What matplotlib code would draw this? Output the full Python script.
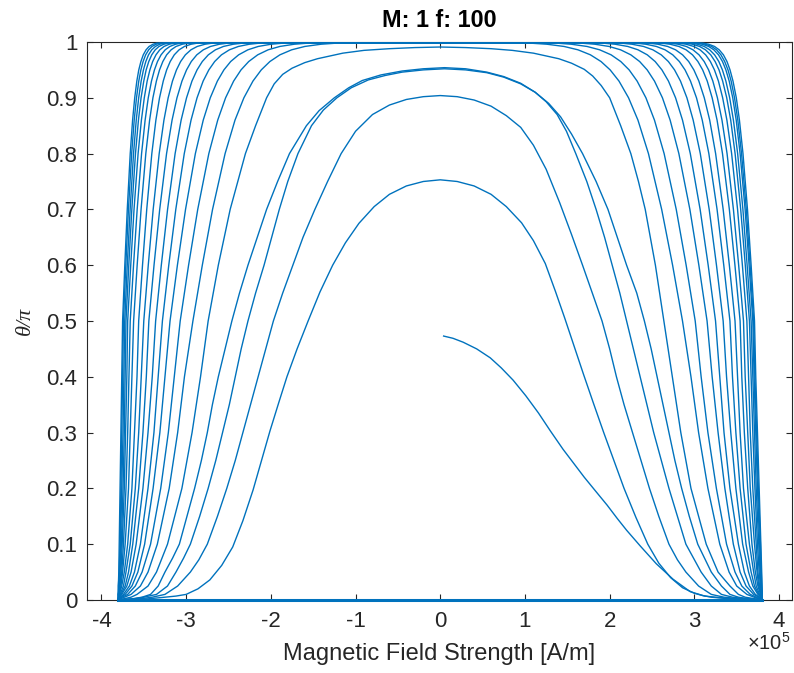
import matplotlib
matplotlib.use("Agg")
import matplotlib.pyplot as plt

plt.rcParams['font.family'] = ['Liberation Sans', 'DejaVu Sans']
plt.rcParams['axes.unicode_minus'] = False
plt.rcParams['mathtext.fontset'] = 'custom'
plt.rcParams['mathtext.rm'] = 'Liberation Sans'
plt.rcParams['mathtext.it'] = 'Liberation Sans:italic'

# x values in units of 1e5 A/m, y = theta/pi
X_SCALE = 1e5
TITLE = "M: 1 f: 100"
XTICKS = [-4, -3, -2, -1, 0, 1, 2, 3, 4]
YTICKS = [0, 0.1, 0.2, 0.3, 0.4, 0.5, 0.6, 0.7, 0.8, 0.9, 1]
YTICK_LABELS = ['0', '0.1', '0.2', '0.3', '0.4', '0.5', '0.6', '0.7', '0.8', '0.9', '1']

# baseline (return sweeps along theta = 0)
BASE_X = [-3.80, 3.80]
BASE_Y = [0.0, 0.0]

# first (partial) sweep
A0_x = [0.04, 0.15, 0.27, 0.43, 0.59, 0.72, 0.86, 1.01, 1.16, 1.30, 1.45, 1.58, 1.70, 1.84, 1.97, 2.09, 2.20,
        2.36, 2.55, 2.75, 2.95, 3.10, 3.20, 3.50, 3.80]
A0_y = [0.473, 0.469, 0.462, 0.450, 0.434, 0.416, 0.394, 0.366, 0.335, 0.303, 0.270, 0.244, 0.220, 0.194, 0.170,
        0.146, 0.125, 0.097, 0.065, 0.037, 0.015, 0.008, 0.005, 0.001, 0.0]

# inner arches (explicit points)
A1_x = [-3.80, -3.45, -3.25, -3.12, -3.00, -2.86, -2.72, -2.58, -2.45, -2.33, -2.21, -2.11, -2.01, -1.91, -1.81,
        -1.69, -1.56, -1.42, -1.27, -1.12, -0.96, -0.78, -0.60, -0.40, -0.20, 0.00,
        0.20, 0.40, 0.60, 0.78, 0.96, 1.10, 1.24, 1.36, 1.47, 1.58, 1.69, 1.81, 1.93, 2.05, 2.17, 2.31, 2.45,
        2.58, 2.72, 2.86, 3.00, 3.12, 3.25, 3.45, 3.80]
A1_y = [0, 0.002, 0.005, 0.007, 0.01, 0.02, 0.036, 0.062, 0.095, 0.142, 0.197, 0.25, 0.303, 0.352, 0.40,
        0.45, 0.5, 0.552, 0.60, 0.64, 0.675, 0.705, 0.727, 0.742, 0.75, 0.753,
        0.75, 0.742, 0.727, 0.705, 0.676, 0.644, 0.603, 0.553, 0.505, 0.455, 0.405, 0.352, 0.30, 0.25, 0.20, 0.148, 0.10,
        0.066, 0.04, 0.022, 0.012, 0.007, 0.005, 0.002, 0]

A2_x = [-3.80, -3.55, -3.40, -3.25, -3.10, -2.95, -2.85, -2.75, -2.63, -2.52, -2.42, -2.33, -2.24, -2.15, -2.06,
        -1.97, -1.86, -1.74, -1.62, -1.48, -1.33, -1.17, -1.00, -0.80, -0.60, -0.40, -0.20, 0.00,
        0.20, 0.40, 0.60, 0.78, 0.95, 1.10, 1.25, 1.41, 1.55, 1.68, 1.80, 1.91, 2.00, 2.08, 2.17, 2.27, 2.37,
        2.47, 2.58, 2.70, 2.80, 2.90, 3.05, 3.20, 3.35, 3.55, 3.80]
A2_y = [0, 0.002, 0.005, 0.01, 0.025, 0.05, 0.072, 0.1, 0.15, 0.2, 0.25, 0.3, 0.35, 0.4, 0.45,
        0.5, 0.55, 0.6, 0.65, 0.7, 0.75, 0.8, 0.84, 0.87, 0.887, 0.897, 0.902, 0.904,
        0.902, 0.896, 0.885, 0.868, 0.847, 0.815, 0.772, 0.712, 0.655, 0.6, 0.548, 0.5, 0.45, 0.4, 0.35, 0.3, 0.25,
        0.2, 0.15, 0.1, 0.072, 0.05, 0.025, 0.01, 0.005, 0.002, 0]

A3_x = [-3.80, -3.62, -3.50, -3.35, -3.22, -3.12, -3.03, -2.95, -2.84, -2.74, -2.65, -2.57, -2.49, -2.42, -2.35,
        -2.27, -2.18, -2.08, -1.99, -1.90, -1.80, -1.68, -1.52, -1.38, -1.22, -1.05, -0.85, -0.65, -0.45, -0.20, 0.05,
        0.30, 0.55, 0.75, 0.95, 1.12, 1.25, 1.38, 1.49, 1.60, 1.73, 1.84, 1.94, 2.03, 2.12, 2.20, 2.28, 2.36,
        2.44, 2.52, 2.61, 2.70, 2.80, 2.90, 2.99, 3.08, 3.20, 3.32, 3.45, 3.62, 3.80]
A3_y = [0, 0.002, 0.005, 0.01, 0.025, 0.05, 0.075, 0.1, 0.15, 0.2, 0.25, 0.3, 0.35, 0.4, 0.45,
        0.5, 0.55, 0.6, 0.65, 0.7, 0.75, 0.8, 0.85, 0.878, 0.9, 0.918, 0.932, 0.94, 0.946, 0.95, 0.952,
        0.95, 0.945, 0.937, 0.925, 0.91, 0.893, 0.87, 0.84, 0.80, 0.75, 0.70, 0.65, 0.60, 0.55, 0.50, 0.45, 0.40,
        0.35, 0.30, 0.25, 0.20, 0.15, 0.10, 0.075, 0.05, 0.025, 0.01, 0.005, 0.002, 0]

A4_x = [-3.80, -3.64, -3.52, -3.42, -3.33, -3.25, -3.16, -3.08, -2.99, -2.90, -2.82, -2.75, -2.69, -2.62, -2.54,
        -2.46, -2.37, -2.27, -2.16, -2.05, -1.92, -1.78, -1.58, -1.43, -1.25, -1.08, -0.92, -0.70, -0.45, -0.20, 0.05,
        0.30, 0.55, 0.75, 0.95, 1.12, 1.28, 1.42, 1.55, 1.68, 1.84, 1.98, 2.09, 2.20, 2.32, 2.41, 2.49, 2.56,
        2.63, 2.70, 2.77, 2.85, 2.94, 3.04, 3.12, 3.20, 3.32, 3.42, 3.52, 3.65, 3.80]
A4_y = [0, 0.002, 0.005, 0.01, 0.025, 0.05, 0.075, 0.1, 0.15, 0.2, 0.25, 0.3, 0.35, 0.4, 0.45,
        0.5, 0.55, 0.6, 0.65, 0.7, 0.75, 0.8, 0.85, 0.877, 0.9, 0.918, 0.931, 0.941, 0.948, 0.952, 0.954,
        0.952, 0.946, 0.938, 0.926, 0.91, 0.89, 0.866, 0.835, 0.80, 0.75, 0.70, 0.65, 0.60, 0.55, 0.50, 0.45, 0.40,
        0.35, 0.30, 0.25, 0.20, 0.15, 0.10, 0.075, 0.05, 0.025, 0.01, 0.005, 0.002, 0]

A5_x = [-3.80, -3.65, -3.58, -3.45, -3.35, -3.22, -3.05, -2.93, -2.83, -2.74, -2.62, -2.48, -2.39, -2.30, -2.18,
        -2.05, -1.96, -1.86, -1.75, -1.60, -1.45, -1.15, -0.90, -0.60, -0.30, 0.00,
        0.30, 0.60, 0.85, 1.10, 1.40, 1.55, 1.70, 1.80, 1.90, 2.00, 2.13, 2.25, 2.34, 2.42, 2.54, 2.64, 2.74,
        2.84, 2.96, 3.14, 3.28, 3.42, 3.52, 3.60, 3.80]
A5_y = [0, 0.005, 0.01, 0.025, 0.05, 0.1, 0.2, 0.3, 0.4, 0.5, 0.6, 0.7, 0.75, 0.8, 0.85,
        0.9, 0.925, 0.942, 0.953, 0.963, 0.97, 0.98, 0.985, 0.988, 0.990, 0.991,
        0.990, 0.988, 0.985, 0.98, 0.97, 0.962, 0.951, 0.939, 0.922, 0.9, 0.85, 0.8, 0.75, 0.7, 0.6, 0.5, 0.4,
        0.3, 0.2, 0.1, 0.05, 0.025, 0.01, 0.005, 0]

# saturated arches: x where each side crosses these theta/pi levels
LEV = [0.003, 0.01, 0.025, 0.05, 0.1, 0.2, 0.3, 0.4, 0.5, 0.6, 0.7, 0.8, 0.86, 0.9, 0.93, 0.95, 0.965,
       0.977, 0.986, 0.992, 0.996, 0.998]

LEFT = [
    [-3.76, -3.65, -3.54, -3.45, -3.34, -3.20, -3.10, -3.02, -2.92, -2.809, -2.688, -2.540, -2.423, -2.318, -2.211, -2.113, -2.011, -1.893, -1.754, -1.599, -1.408, -1.218],
    [-3.78, -3.69, -3.60, -3.52, -3.42, -3.30, -3.21, -3.14, -3.07, -2.971, -2.863, -2.732, -2.627, -2.534, -2.439, -2.352, -2.261, -2.155, -2.032, -1.894, -1.724, -1.554],
    [-3.79, -3.72, -3.64, -3.57, -3.49, -3.39, -3.31, -3.25, -3.19, -3.103, -3.007, -2.891, -2.798, -2.715, -2.631, -2.554, -2.474, -2.380, -2.271, -2.149, -1.998, -1.848],
    [-3.79, -3.74, -3.67, -3.61, -3.54, -3.45, -3.38, -3.33, -3.28, -3.205, -3.122, -3.022, -2.942, -2.871, -2.799, -2.732, -2.663, -2.583, -2.489, -2.383, -2.254, -2.124],
    [-3.80, -3.76, -3.70, -3.65, -3.59, -3.51, -3.45, -3.40, -3.36, -3.293, -3.219, -3.130, -3.059, -2.995, -2.931, -2.871, -2.809, -2.738, -2.654, -2.560, -2.444, -2.329],
    [-3.80, -3.77, -3.72, -3.68, -3.63, -3.56, -3.51, -3.47, -3.44, -3.379, -3.312, -3.231, -3.166, -3.108, -3.049, -2.995, -2.939, -2.874, -2.797, -2.712, -2.607, -2.502],
    [-3.80, -3.78, -3.74, -3.71, -3.66, -3.60, -3.56, -3.53, -3.50, -3.447, -3.389, -3.318, -3.262, -3.212, -3.161, -3.114, -3.065, -3.009, -2.943, -2.869, -2.777, -2.686],
    [-3.80, -3.79, -3.76, -3.73, -3.69, -3.64, -3.61, -3.58, -3.56, -3.515, -3.465, -3.405, -3.357, -3.314, -3.270, -3.230, -3.188, -3.140, -3.083, -3.020, -2.942, -2.864],
    [-3.80, -3.79, -3.77, -3.75, -3.72, -3.68, -3.66, -3.64, -3.62, -3.578, -3.532, -3.476, -3.431, -3.392, -3.351, -3.314, -3.275, -3.230, -3.177, -3.119, -3.046, -2.974],
    [-3.80, -3.80, -3.78, -3.76, -3.74, -3.71, -3.69, -3.675, -3.66, -3.621, -3.578, -3.526, -3.484, -3.447, -3.409, -3.374, -3.338, -3.296, -3.247, -3.192, -3.125, -3.057],
    [-3.80, -3.80, -3.785, -3.77, -3.755, -3.73, -3.715, -3.70, -3.69, -3.654, -3.615, -3.567, -3.528, -3.494, -3.460, -3.428, -3.395, -3.356, -3.311, -3.261, -3.199, -3.137],
    [-3.80, -3.80, -3.79, -3.78, -3.765, -3.745, -3.73, -3.72, -3.71, -3.677, -3.641, -3.598, -3.563, -3.532, -3.500, -3.472, -3.441, -3.406, -3.365, -3.320, -3.263, -3.207],
    [-3.80, -3.80, -3.795, -3.785, -3.775, -3.76, -3.745, -3.735, -3.725, -3.695, -3.661, -3.621, -3.589, -3.560, -3.531, -3.504, -3.476, -3.444, -3.406, -3.363, -3.311, -3.259],
    [-3.80, -3.80, -3.80, -3.79, -3.78, -3.77, -3.76, -3.75, -3.74, -3.712, -3.681, -3.643, -3.613, -3.586, -3.559, -3.534, -3.508, -3.478, -3.442, -3.403, -3.354, -3.305],
    [-3.80, -3.80, -3.80, -3.795, -3.79, -3.78, -3.77, -3.76, -3.75, -3.724, -3.695, -3.660, -3.632, -3.607, -3.582, -3.559, -3.534, -3.506, -3.473, -3.437, -3.391, -3.346],
]

RIGHT = [
    [3.74, 3.62, 3.50, 3.41, 3.30, 3.16, 3.05, 2.96, 2.86, 2.743, 2.614, 2.458, 2.334, 2.223, 2.110, 2.006, 1.898, 1.773, 1.626, 1.462, 1.260, 1.058],
    [3.76, 3.66, 3.56, 3.48, 3.38, 3.26, 3.16, 3.08, 3.01, 2.903, 2.786, 2.643, 2.529, 2.428, 2.324, 2.230, 2.131, 2.017, 1.882, 1.733, 1.548, 1.364],
    [3.78, 3.70, 3.61, 3.54, 3.46, 3.36, 3.28, 3.21, 3.15, 3.053, 2.947, 2.817, 2.714, 2.623, 2.529, 2.443, 2.354, 2.250, 2.129, 1.993, 1.826, 1.659],
    [3.79, 3.72, 3.65, 3.59, 3.52, 3.42, 3.35, 3.30, 3.25, 3.163, 3.068, 2.952, 2.860, 2.778, 2.694, 2.617, 2.537, 2.444, 2.335, 2.214, 2.064, 1.914],
    [3.80, 3.75, 3.69, 3.64, 3.57, 3.49, 3.43, 3.38, 3.34, 3.261, 3.175, 3.070, 2.986, 2.912, 2.836, 2.766, 2.693, 2.609, 2.510, 2.400, 2.264, 2.128],
    [3.80, 3.76, 3.71, 3.67, 3.61, 3.54, 3.49, 3.45, 3.42, 3.347, 3.268, 3.171, 3.093, 3.025, 2.954, 2.890, 2.823, 2.745, 2.654, 2.552, 2.427, 2.302],
    [3.80, 3.77, 3.73, 3.70, 3.65, 3.58, 3.54, 3.51, 3.48, 3.413, 3.340, 3.251, 3.181, 3.117, 3.053, 2.994, 2.933, 2.861, 2.778, 2.685, 2.570, 2.455],
    [3.80, 3.78, 3.75, 3.72, 3.68, 3.63, 3.59, 3.56, 3.54, 3.479, 3.413, 3.332, 3.268, 3.210, 3.152, 3.098, 3.042, 2.978, 2.902, 2.817, 2.712, 2.608],
    [3.80, 3.79, 3.76, 3.74, 3.71, 3.66, 3.63, 3.60, 3.58, 3.523, 3.461, 3.386, 3.326, 3.272, 3.218, 3.168, 3.116, 3.055, 2.984, 2.905, 2.808, 2.710],
    [3.80, 3.79, 3.77, 3.75, 3.73, 3.69, 3.66, 3.64, 3.62, 3.567, 3.510, 3.440, 3.384, 3.334, 3.284, 3.237, 3.189, 3.133, 3.067, 2.993, 2.903, 2.812],
    [3.80, 3.80, 3.78, 3.765, 3.745, 3.715, 3.69, 3.67, 3.65, 3.601, 3.547, 3.481, 3.429, 3.382, 3.334, 3.291, 3.245, 3.193, 3.131, 3.062, 2.977, 2.892],
    [3.80, 3.80, 3.79, 3.775, 3.76, 3.73, 3.71, 3.69, 3.67, 3.623, 3.573, 3.511, 3.461, 3.417, 3.372, 3.331, 3.289, 3.239, 3.181, 3.116, 3.036, 2.956],
    [3.80, 3.80, 3.79, 3.785, 3.77, 3.745, 3.725, 3.705, 3.69, 3.646, 3.599, 3.540, 3.494, 3.453, 3.411, 3.372, 3.332, 3.285, 3.230, 3.169, 3.094, 3.019],
    [3.80, 3.80, 3.795, 3.79, 3.78, 3.755, 3.735, 3.715, 3.70, 3.658, 3.613, 3.557, 3.513, 3.474, 3.434, 3.397, 3.358, 3.314, 3.262, 3.204, 3.132, 3.060],
    [3.80, 3.80, 3.80, 3.795, 3.785, 3.765, 3.745, 3.725, 3.71, 3.670, 3.627, 3.574, 3.532, 3.495, 3.456, 3.421, 3.385, 3.343, 3.293, 3.238, 3.169, 3.101],
]

COLOR = '#0072BD'
TXT = '#262626'
LW = 1.0

fig = plt.figure(figsize=(7.94, 6.73), dpi=100)
ax = fig.add_axes([0.1096, 0.1085, 0.8876, 0.8291])

def draw(xs, ys):
    ax.plot([v * X_SCALE for v in xs], ys, color=COLOR, lw=LW, zorder=3,
            solid_joinstyle='round')

draw(A0_x, A0_y)
for xs, ys in [(A1_x, A1_y), (A2_x, A2_y), (A3_x, A3_y), (A4_x, A4_y), (A5_x, A5_y)]:
    draw(xs, ys)

for i in range(len(LEFT)):
    xs = [-3.80] + LEFT[i] + RIGHT[i][::-1] + [3.80]
    ys = [0.0] + LEV + LEV[::-1] + [0.0]
    draw(xs, ys)

ax.plot([v * X_SCALE for v in BASE_X], BASE_Y, color=COLOR, lw=2.2, zorder=4, clip_on=False)

ax.set_xlim(-4.17 * X_SCALE, 4.15 * X_SCALE)
ax.set_ylim(0, 1)
ax.set_xticks([t * X_SCALE for t in XTICKS])
ax.set_xticklabels([str(t) for t in XTICKS])
ax.set_yticks(YTICKS)
ax.set_yticklabels(YTICK_LABELS)

for s in ax.spines.values():
    s.set_color(TXT)
    s.set_linewidth(0.8)
ax.tick_params(direction='in', top=True, right=True, length=4.5, width=0.8,
               colors=TXT, labelsize=16, labelcolor=TXT)
ax.tick_params(axis='x', pad=8)
ax.tick_params(axis='y', pad=7)

ax.set_xlabel('Magnetic Field Strength [A/m]', fontsize=17, color=TXT, labelpad=8)
ax.set_ylabel('θ/π', fontsize=16, color=TXT, labelpad=8,
              family=['Liberation Serif', 'DejaVu Serif'], style='italic')
ax.set_title(TITLE, fontsize=16.8, fontweight='bold', color='black', pad=11)
ax.text(0.999, -0.0885, '×10$^{5}$', transform=ax.transAxes, ha='right', va='baseline',
        fontsize=14.5, color=TXT)

fig.savefig('out.png', dpi=100)
